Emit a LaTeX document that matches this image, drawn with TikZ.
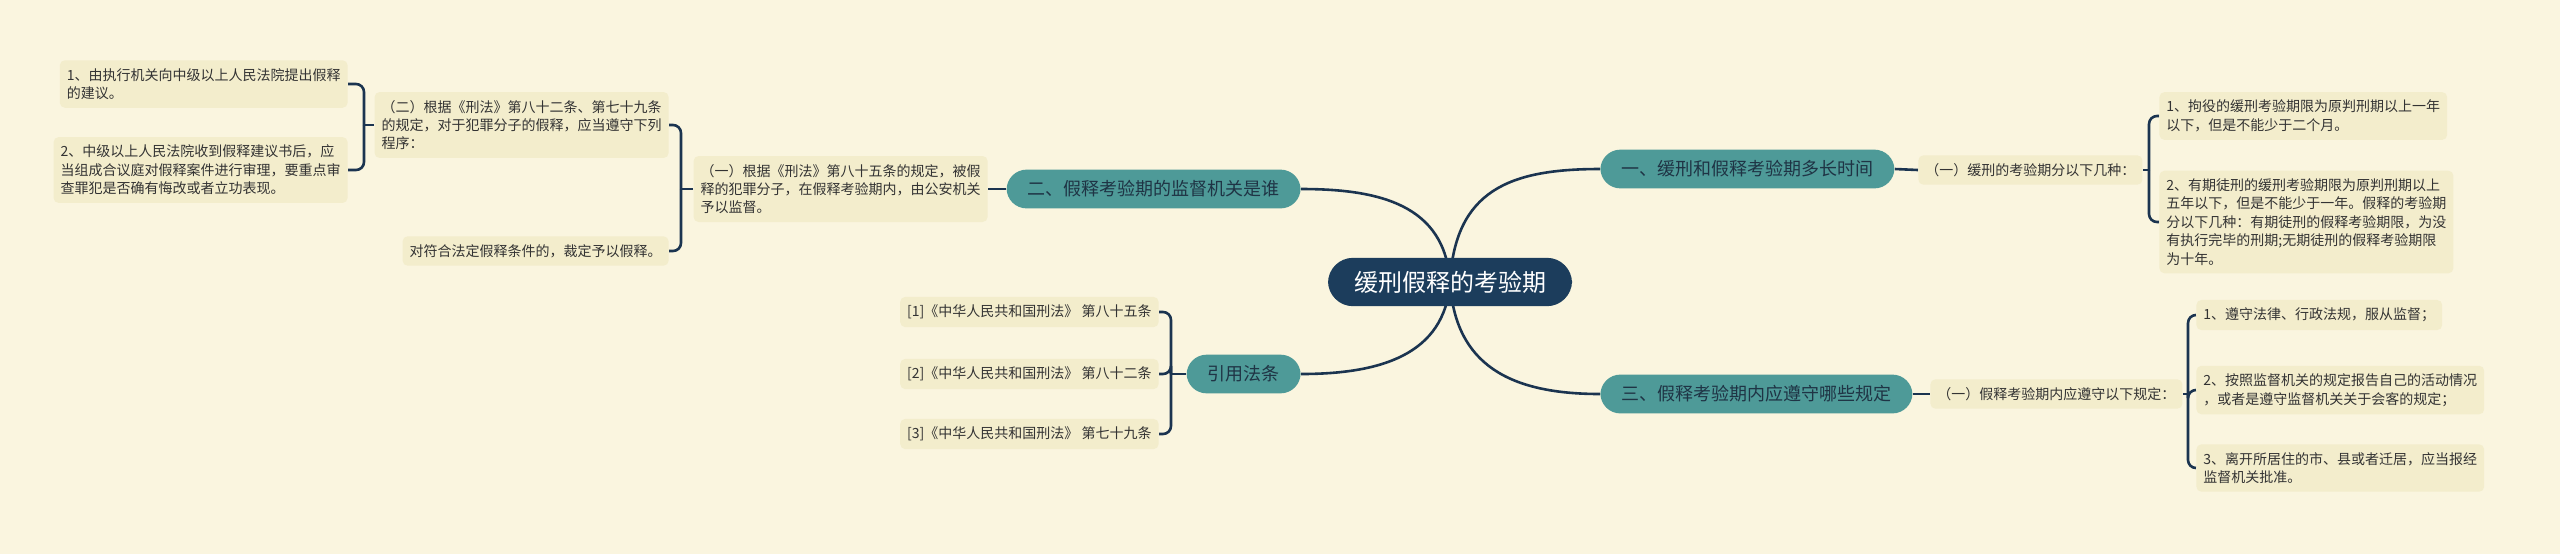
\documentclass[tikz,border=0pt]{standalone}
\usepackage{fontspec}
\setmainfont{Noto Sans CJK SC}
\usetikzlibrary{calc}
\pgfdeclarelayer{background}
\pgfsetlayers{background,main}
\definecolor{bgcol}{HTML}{FAF5DF}
\definecolor{leafcol}{HTML}{F3EDCC}
\definecolor{tealcol}{HTML}{4E9A98}
\definecolor{rootcol}{HTML}{1C3D5C}
\definecolor{linecol}{HTML}{1B3450}
\definecolor{txtcol}{HTML}{333333}
\definecolor{branchtxt}{HTML}{1F3445}

\begin{document}
\begin{tikzpicture}[x=0.5pt,y=-0.5pt,
    leaf/.style={fill=leafcol,rounded corners=2.5pt,inner xsep=3.5pt,inner ysep=4pt,
        align=left,text=txtcol,font=\fontsize{7}{9.2}\selectfont},
    branch/.style={fill=tealcol,rounded corners=10pt,inner xsep=10.5pt,inner ysep=5.5pt,
        text=branchtxt,font=\fontsize{9}{10}\selectfont},
    root/.style={fill=rootcol,rounded corners=12.5pt,inner xsep=13pt,inner ysep=6.5pt,
        text=white,font=\fontsize{12}{14}\selectfont},
    link/.style={draw=linecol,line width=1.3pt},
    fork/.style={link,rounded corners=4pt}]
                        \useasboundingbox (0,0) rectangle (2560,554);
                        \node[root] (c) at (1450,282) {缓刑假释的考验期};
                        \node[branch,anchor=west] (b1) at (1600,169) {一、缓刑和假释考验期多长时间};
                        \node[branch,anchor=east] (b2) at (1301,189) {二、假释考验期的监督机关是谁};
                        \node[branch,anchor=west] (b3) at (1600,394) {三、假释考验期内应遵守哪些规定};
                        \node[branch,anchor=east] (b4) at (1301,374) {引用法条};
                        \node[leaf,anchor=west] (b1a) at (1918,170) {（一）缓刑的考验期分以下几种：};
                        \node[leaf,anchor=west] (b1a1) at (2159,116) {1、拘役的缓刑考验期限为原判刑期以上一年\\以下，但是不能少于二个月。};
                        \node[leaf,anchor=west] (b1a2) at (2159,222) {2、有期徒刑的缓刑考验期限为原判刑期以上\\五年以下，但是不能少于一年。假释的考验期\\分以下几种：有期徒刑的假释考验期限，为没\\有执行完毕的刑期;无期徒刑的假释考验期限\\为十年。};
                        \node[leaf,anchor=east] (b2a) at (988,189) {（一）根据《刑法》第八十五条的规定，被假\\释的犯罪分子，在假释考验期内，由公安机关\\予以监督。};
                        \node[leaf,anchor=east] (b2a1) at (669,125) {（二）根据《刑法》第八十二条、第七十九条\\的规定，对于犯罪分子的假释，应当遵守下列\\程序：};
                        \node[leaf,anchor=east] (b2a2) at (669,251) {对符合法定假释条件的，裁定予以假释。};
                        \node[leaf,anchor=east] (b2a1a) at (348,84) {1、由执行机关向中级以上人民法院提出假释\\的建议。};
                        \node[leaf,anchor=east] (b2a1b) at (348,170) {2、中级以上人民法院收到假释建议书后，应\\当组成合议庭对假释案件进行审理，要重点审\\查罪犯是否确有悔改或者立功表现。};
                        \node[leaf,anchor=west] (b3a) at (1930,394) {（一）假释考验期内应遵守以下规定：};
                        \node[leaf,anchor=west] (b3a1) at (2196,315) {1、遵守法律、行政法规，服从监督；};
                        \node[leaf,anchor=west] (b3a2) at (2196,390) {2、按照监督机关的规定报告自己的活动情况\\，或者是遵守监督机关关于会客的规定；};
                        \node[leaf,anchor=west] (b3a3) at (2196,468) {3、离开所居住的市、县或者迁居，应当报经\\监督机关批准。};
                        \node[leaf,anchor=east] (b4a) at (1159,312) {[1]《中华人民共和国刑法》 第八十五条};
                        \node[leaf,anchor=east] (b4b) at (1159,374) {[2]《中华人民共和国刑法》 第八十二条};
                        \node[leaf,anchor=east] (b4c) at (1159,434) {[3]《中华人民共和国刑法》 第七十九条};
                        \coordinate (k1) at (2149,0);
                        \coordinate (k2) at (681,0);
                        \coordinate (k21) at (364,0);
                        \coordinate (k3) at (2188,0);
                        \coordinate (k4) at (1171,0);
                        \begin{pgfonlayer}{background}
                        \fill[bgcol] (0,0) rectangle (2560,554);
                        \draw[link] (c.center) .. controls (1455,190) and (1510,169) .. (b1.west);
                        \draw[link] (c.center) .. controls (1445,205) and (1380,189) .. (b2.east);
                        \draw[link] (c.center) .. controls (1455,365) and (1510,394) .. (b3.west);
                        \draw[link] (c.center) .. controls (1445,355) and (1380,374) .. (b4.east);
                        \draw[link] (b1.east) -- (b1a.west);
                        \draw[link] (b2.west) -- (b2a.east);
                        \draw[link] (b3.east) -- (b3a.west);
                        \draw[link] (b1a.east) -- (b1a.east -| k1);
                        \foreach \n in {b1a1,b1a2}
                            \draw[fork] (b1a.east -| k1) |- (\n.west);
                        \draw[link] (b3a.east) -- (b3a.east -| k3);
                        \foreach \n in {b3a1,b3a2,b3a3}
                            \draw[fork] (b3a.east -| k3) |- (\n.west);
                        \draw[link] (b2a.west) -- (b2a.west -| k2);
                        \foreach \n in {b2a1,b2a2}
                            \draw[fork] (b2a.west -| k2) |- (\n.east);
                        \draw[link] (b2a1.west) -- (b2a1.west -| k21);
                        \foreach \n in {b2a1a,b2a1b}
                            \draw[fork] (b2a1.west -| k21) |- (\n.east);
                        \draw[link] (b4.west) -- (b4.west -| k4);
                        \foreach \n in {b4a,b4b,b4c}
                            \draw[fork] (b4.west -| k4) |- (\n.east);
                        \end{pgfonlayer}
                    \end{tikzpicture}
\end{document}
